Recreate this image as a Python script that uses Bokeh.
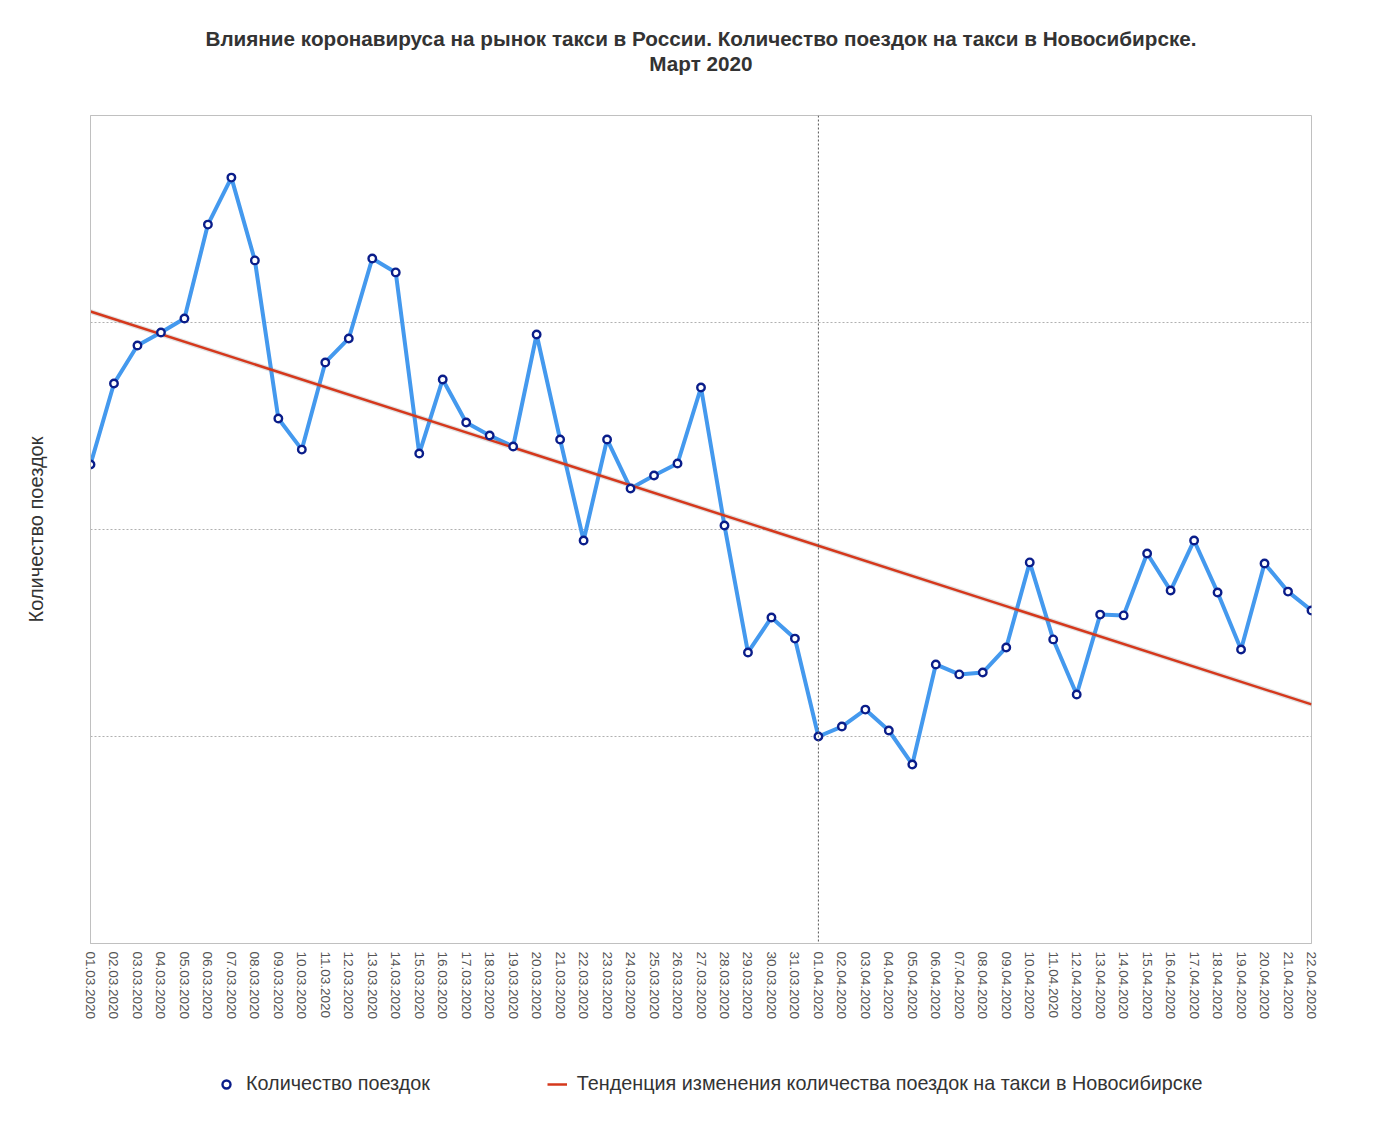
from bokeh.plotting import figure
from bokeh.layouts import column
from bokeh.models import (Range1d, FixedTicker, Span, Title, Legend, LegendItem,
                          ColumnDataSource)
from bokeh.embed import file_html
from bokeh.resources import INLINE

# ---------------- data ----------------
dates = [f"{d:02d}.03.2020" for d in range(1, 32)] + [f"{d:02d}.04.2020" for d in range(1, 23)]
trips = [23140, 27050, 28890, 29520, 30190, 34730, 37000, 33000, 25360, 23860,
         28070, 29230, 33090, 32420, 23670, 27250, 25170, 24540, 24010, 29420,
         24350, 19470, 24350, 21980, 22610, 23190, 26860, 20190, 14060, 15750,
         14730, 10000, 10480, 11300, 10290, 8650, 13480, 13000, 13090, 14300,
         18410, 14690, 12030, 15890, 15850, 18840, 17050, 19470, 16960, 14200,
         18360, 17000, 16090]
trend_idx = [0, 52]
trend_vals = [30530, 11550]
grid_vals = [10000, 20000, 30000]
april_first = dates.index("01.04.2020")

title_line1 = "Влияние коронавируса на рынок такси в России. Количество поездок на такси в Новосибирске."
title_line2 = "Март 2020"
y_label = "Количество поездок"
series_name = "Количество поездок"
trend_name = "Тенденция изменения количества поездок на такси в Новосибирске"

FONT = "Liberation Sans"
FW, FH = 1221, 828
LINE_STYLE = dict(line_color="#4499ee", line_width=4)
TREND_STYLE = dict(line_color="#d5381c", line_width=2.5)
PT_STYLE = dict(size=7.5, marker="circle", fill_color="white",
                line_color="#0a1d8a", line_width=2.4)

idx = list(range(len(dates)))
src = ColumnDataSource(dict(x=idx, y=trips))
trend_src = ColumnDataSource(dict(x=trend_idx, y=trend_vals))

p = figure(frame_width=FW, frame_height=FH,
           x_range=Range1d(0, len(dates) - 1), y_range=Range1d(0, 40000),
           output_backend="svg", toolbar_location=None,
           min_border_left=90, min_border_right=55, min_border_top=115,
           min_border_bottom=0)
p.title.visible = False
p.outline_line_color = "#c0c0c0"
p.outline_line_width = 1
p.background_fill_color = "white"
p.border_fill_color = "white"

# titles, stacked outward from the frame: spacer, line 2, line 1
spacer = Title(text=" ", text_font_size="1px", standoff=38)
t2 = Title(text=title_line2, align="center", text_font=FONT, text_font_size="20.7px",
           text_font_style="bold", text_color="#333333", standoff=0)
t1 = Title(text=title_line1, align="center", text_font=FONT, text_font_size="20.7px",
           text_font_style="bold", text_color="#333333", standoff=0)
p.add_layout(spacer, "above")
p.add_layout(t2, "above")
p.add_layout(t1, "above")

# grid
p.xgrid.visible = False
p.ygrid.ticker = FixedTicker(ticks=grid_vals)
p.ygrid.grid_line_color = "#b0b0b0"
p.ygrid.grid_line_dash = "2 2"

# x axis
p.xaxis.ticker = FixedTicker(ticks=idx)
p.xaxis.major_label_overrides = {i: d for i, d in enumerate(dates)}
p.xaxis.major_label_orientation = "vertical"
p.xaxis.major_label_text_font = FONT
p.xaxis.major_label_text_font_size = "13.5px"
p.xaxis.major_label_text_color = "#555555"
p.xaxis.major_tick_line_color = None
p.xaxis.minor_tick_line_color = None
p.xaxis.axis_line_color = "#c0c0c0"
p.xaxis.major_label_standoff = 2

# y axis
p.yaxis.ticker = FixedTicker(ticks=grid_vals)
p.yaxis.major_label_overrides = {v: "" for v in grid_vals}
p.yaxis.major_tick_line_color = None
p.yaxis.minor_tick_line_color = None
p.yaxis.axis_line_color = "#c0c0c0"
p.yaxis.axis_label = y_label
p.yaxis.axis_label_text_font = FONT
p.yaxis.axis_label_text_font_size = "20px"
p.yaxis.axis_label_text_font_style = "normal"
p.yaxis.axis_label_text_color = "#333333"
p.yaxis.axis_label_standoff = 38

# april marker
p.add_layout(Span(location=april_first, dimension="height", line_color="#555555",
                  line_width=1, line_dash="2 2"))

# data line
p.line("x", "y", source=src, **LINE_STYLE)

# trend with faint shadow
p.line("x", "y", source=trend_src, line_color="#888888", line_alpha=0.25, line_width=5)
p.line("x", "y", source=trend_src, **TREND_STYLE)

p.scatter("x", "y", source=src, **PT_STYLE)

# ---------------- legend strip (same sources, out of its view) ----------------
p2 = figure(frame_width=FW, frame_height=110, x_range=Range1d(0, 1), y_range=Range1d(0, 1),
            output_backend="svg", toolbar_location=None,
            min_border_left=90, min_border_right=55, min_border_top=0,
            min_border_bottom=0)
p2.axis.visible = False
p2.grid.visible = False
p2.outline_line_color = None
p2.title.visible = False
leg_pts = p2.scatter("x", "y", source=src, **PT_STYLE)
leg_trend = p2.line("x", "y", source=trend_src, **TREND_STYLE)

legend = Legend(items=[LegendItem(label=series_name, renderers=[leg_pts]),
                       LegendItem(label=trend_name, renderers=[leg_trend])],
                orientation="horizontal", location=(126, 37),
                label_text_font=FONT, label_text_font_size="19.8px",
                label_text_color="#333333", spacing=117, label_standoff=10,
                glyph_width=20, border_line_color=None, background_fill_alpha=0,
                margin=0)
p2.add_layout(legend, "center")

open("out.html", "w").write(file_html(column(p, p2), INLINE))
